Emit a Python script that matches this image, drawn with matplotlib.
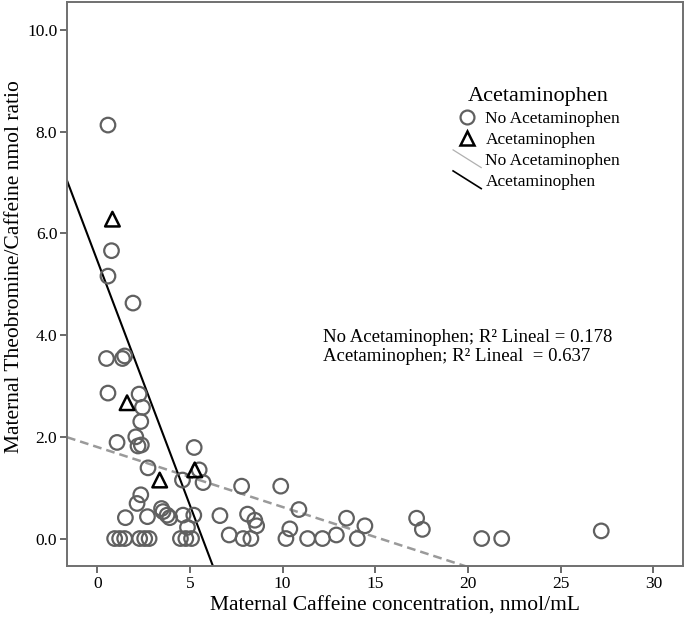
import numpy as np
import matplotlib
matplotlib.use("Agg")
import matplotlib.pyplot as plt
from matplotlib.lines import Line2D
from matplotlib.legend_handler import HandlerBase

plt.rcParams['font.family'] = ['Liberation Serif', 'DejaVu Serif']

# --- data ---
no_acet_x = [0.58, 0.77, 0.58, 1.93, 0.50, 1.36, 1.48, 0.58, 2.26, 2.44, 2.35,
             1.07, 2.08, 2.20, 2.38, 5.23, 2.74, 5.50, 4.60, 5.71, 2.35, 2.15,
             1.52, 2.71, 3.47, 3.55, 3.77, 3.91, 4.63, 5.21, 4.87, 6.62,
             0.94, 1.21, 1.48, 2.29, 2.56, 2.80, 4.49, 4.78, 5.09,
             7.79, 9.90, 10.88, 8.11, 8.50, 8.60, 7.12, 7.87, 8.29, 10.39,
             10.18, 11.35, 12.15, 12.90, 13.45, 14.44, 14.03, 17.23, 17.54,
             20.74, 21.82, 27.19]
no_acet_y = [8.13, 5.66, 5.16, 4.63, 3.54, 3.54, 3.59, 2.86, 2.84, 2.58, 2.30,
             1.89, 2.00, 1.82, 1.84, 1.79, 1.39, 1.35, 1.15, 1.10, 0.86, 0.69,
             0.41, 0.43, 0.59, 0.53, 0.46, 0.41, 0.46, 0.46, 0.22, 0.45,
             0.0, 0.0, 0.0, 0.0, 0.0, 0.0, 0.0, 0.0, 0.0,
             1.03, 1.03, 0.57, 0.48, 0.36, 0.25, 0.07, 0.0, 0.0, 0.19,
             0.0, 0.0, 0.0, 0.07, 0.40, 0.25, 0.0, 0.40, 0.18,
             0.0, 0.0, 0.15]
acet_x = [0.82, 1.61, 3.37, 5.26]
acet_y = [6.28, 2.67, 1.15, 1.35]

# fit lines (intercept, slope)
fit_intercepts = [1.80, 5.47]
fit_slopes = [-0.118, -0.963]
group_labels = ["No Acetaminophen", "Acetaminophen"]
r2_labels = ["0.178", "0.637"]

x_ticks = [0, 5, 10, 15, 20, 25, 30]
y_ticks = [0.0, 2.0, 4.0, 6.0, 8.0, 10.0]

W, H = 685, 627
fig = plt.figure(figsize=(W / 100, H / 100), dpi=100)
ax = fig.add_axes([67 / W, 61 / H, (683 - 67) / W, (566 - 2) / H])

xlim = (-1.63, 31.6)
ylim = (-0.54, 10.55)
ax.set_xlim(*xlim)
ax.set_ylim(*ylim)

circle_col = '#606060'
ax.scatter(no_acet_x, no_acet_y, s=110, facecolors='none', edgecolors=circle_col,
           linewidths=1.6, zorder=3)
ax.scatter(acet_x, acet_y, s=110, marker='^', facecolors='none', edgecolors='black',
           linewidths=1.8, zorder=4)

xs = np.array(xlim)
ax.plot(xs, fit_intercepts[0] + fit_slopes[0] * xs, color='#9a9a9a', lw=1.8,
        ls=(0, (3.5, 2)), zorder=2)
ax.plot(xs, fit_intercepts[1] + fit_slopes[1] * xs, color='black', lw=1.5, zorder=2)

ax.set_xticks(x_ticks)
ax.set_xticklabels([str(t) for t in x_ticks])
ax.set_yticks(y_ticks)
ax.set_yticklabels([f"{t:.1f}" for t in y_ticks])
ax.tick_params(direction='out', length=5, width=1.2, color='#505050',
               labelsize=12.5, pad=2)
for s in ax.spines.values():
    s.set_color('#707070')
    s.set_linewidth(1.4)

ax.set_xlabel("Maternal Caffeine concentration, nmol/mL", fontsize=15.5, va='center')
ax.xaxis.set_label_coords(0.532, (566 - 606) / 564)
ax.set_ylabel("Maternal Theobromine/Caffeine nmol ratio", fontsize=15.5, va='center')
ax.yaxis.set_label_coords((15 - 67) / 616, (566 - 267) / 564)


class DiagHandler(HandlerBase):
    def __init__(self, color, ls, lw):
        super().__init__()
        self.color, self.ls, self.lw = color, ls, lw

    def create_artists(self, legend, orig_handle, xdescent, ydescent, width,
                       height, fontsize, trans):
        x0 = -xdescent - 2
        x1 = -xdescent + width + 2
        l = Line2D([x0, x1], [height + 2, -ydescent - 2], color=self.color,
                   ls=self.ls, lw=self.lw, transform=trans)
        return [l]


h_circ = Line2D([], [], ls='none', marker='o', markersize=10, markerfacecolor='none',
                markeredgecolor=circle_col, markeredgewidth=1.6)
h_tri = Line2D([], [], ls='none', marker='^', markersize=10, markerfacecolor='none',
               markeredgecolor='black', markeredgewidth=1.8)
h_dash = Line2D([], [], color='#b0b0b0')
h_solid = Line2D([], [], color='black')
leg = ax.legend([h_circ, h_tri, h_dash, h_solid],
                [group_labels[0], group_labels[1], group_labels[0], group_labels[1]],
                handler_map={h_dash: DiagHandler('#b0b0b0', '-', 0.9),
                             h_solid: DiagHandler('black', '-', 1.2)},
                title="Acetaminophen", title_fontsize=16, fontsize=12.5,
                frameon=False, loc='upper left', bbox_to_anchor=(0.62, 0.862),
                handlelength=1.3, handletextpad=0.4, labelspacing=0.28,
                borderaxespad=0)

ax.text(0.415, 0.421,
        f"{group_labels[0]}; R\u00b2 Lineal = {r2_labels[0]}\n"
        f"{group_labels[1]}; R\u00b2 Lineal  = {r2_labels[1]}",
        transform=ax.transAxes, fontsize=13.5, va='top', ha='left', linespacing=1.15)

fig.savefig("out.png", dpi=100)
